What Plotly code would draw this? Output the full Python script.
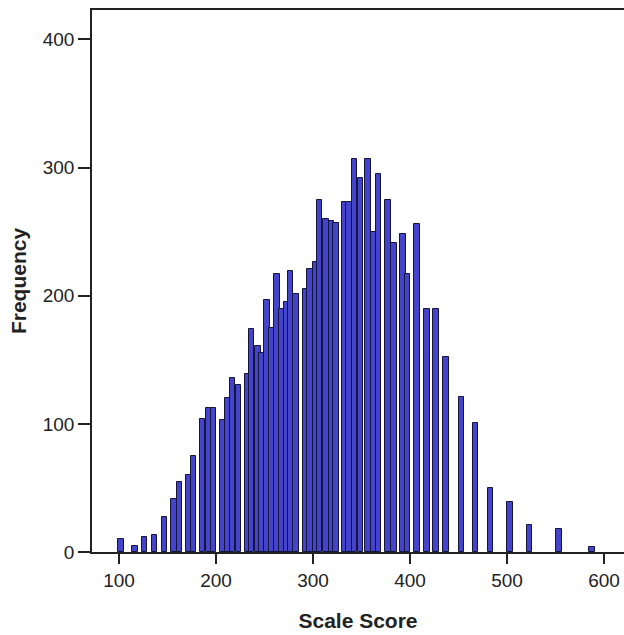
import plotly.graph_objects as go

# Bar centres (scale score) and frequencies
scores = [102.1, 116.5, 126.8, 137.1, 147.4, 156.7, 162.4, 172.2, 177.3, 186.1,
          191.8, 197.9, 207.2, 212.4, 217.5, 223.7, 232.0, 237.1, 243.3, 247.4,
          252.6, 257.7, 262.9, 268.0, 273.2, 277.3, 282.5, 291.8, 296.9, 302.1,
          307.2, 313.4, 318.6, 323.7, 332.0, 337.1, 342.3, 348.5, 356.7, 362.9,
          368.0, 377.3, 383.5, 392.8, 397.9, 407.2, 417.5, 426.8, 437.1, 452.6,
          468.0, 482.5, 503.1, 522.7, 553.6, 587.6]
frequency = [10, 5, 12, 13, 27, 41, 55, 60, 75, 104,
             112, 112, 103, 120, 136, 130, 139, 174, 161, 155,
             197, 175, 217, 190, 195, 219, 201, 205, 221, 226,
             275, 260, 258, 257, 273, 273, 307, 292, 307, 250,
             295, 275, 241, 248, 217, 256, 190, 190, 152, 121,
             101, 50, 39, 21, 18, 4]

x_ticks = [100, 200, 300, 400, 500, 600]
y_ticks = [0, 100, 200, 300, 400]

fig = go.Figure()
fig.add_trace(go.Bar(
    x=scores, y=frequency, width=5.2,
    marker=dict(color="#4343cc", line=dict(color="#15153a", width=1)),
    hoverinfo="x+y",
))

font_family = "Liberation Sans, Arial, sans-serif"
fig.update_layout(
    width=624, height=635,
    margin=dict(l=92, r=0, t=10, b=83),
    paper_bgcolor="white", plot_bgcolor="white",
    showlegend=False,
    bargap=0,
    font=dict(family=font_family, color="#222222"),
    xaxis=dict(
        range=[72.2, 620.6],
        tickvals=x_ticks,
        ticks="outside", ticklen=10, tickwidth=1.5, tickcolor="#222222",
        tickfont=dict(size=19, color="#222222"),
        showline=True, linecolor="#222222", linewidth=1.5, mirror=True,
        showgrid=False, zeroline=False,
        title=dict(text="<b>Scale Score</b>", font=dict(size=21, color="#222222"), standoff=24),
    ),
    yaxis=dict(
        range=[0, 423],
        tickvals=y_ticks,
        ticks="outside", ticklen=12, tickwidth=1.5, tickcolor="#222222",
        tickfont=dict(size=19, color="#222222"),
        showline=True, linecolor="#222222", linewidth=1.5, mirror=False,
        showgrid=False, zeroline=False,
        title=dict(text="<b>Frequency</b>", font=dict(size=21, color="#222222"), standoff=10),
    ),
)

fig.write_html(
    "out.html",
    config={"displayModeBar": False},
    post_script="document.body.style.margin='0px';document.body.style.overflow='hidden';",
)
